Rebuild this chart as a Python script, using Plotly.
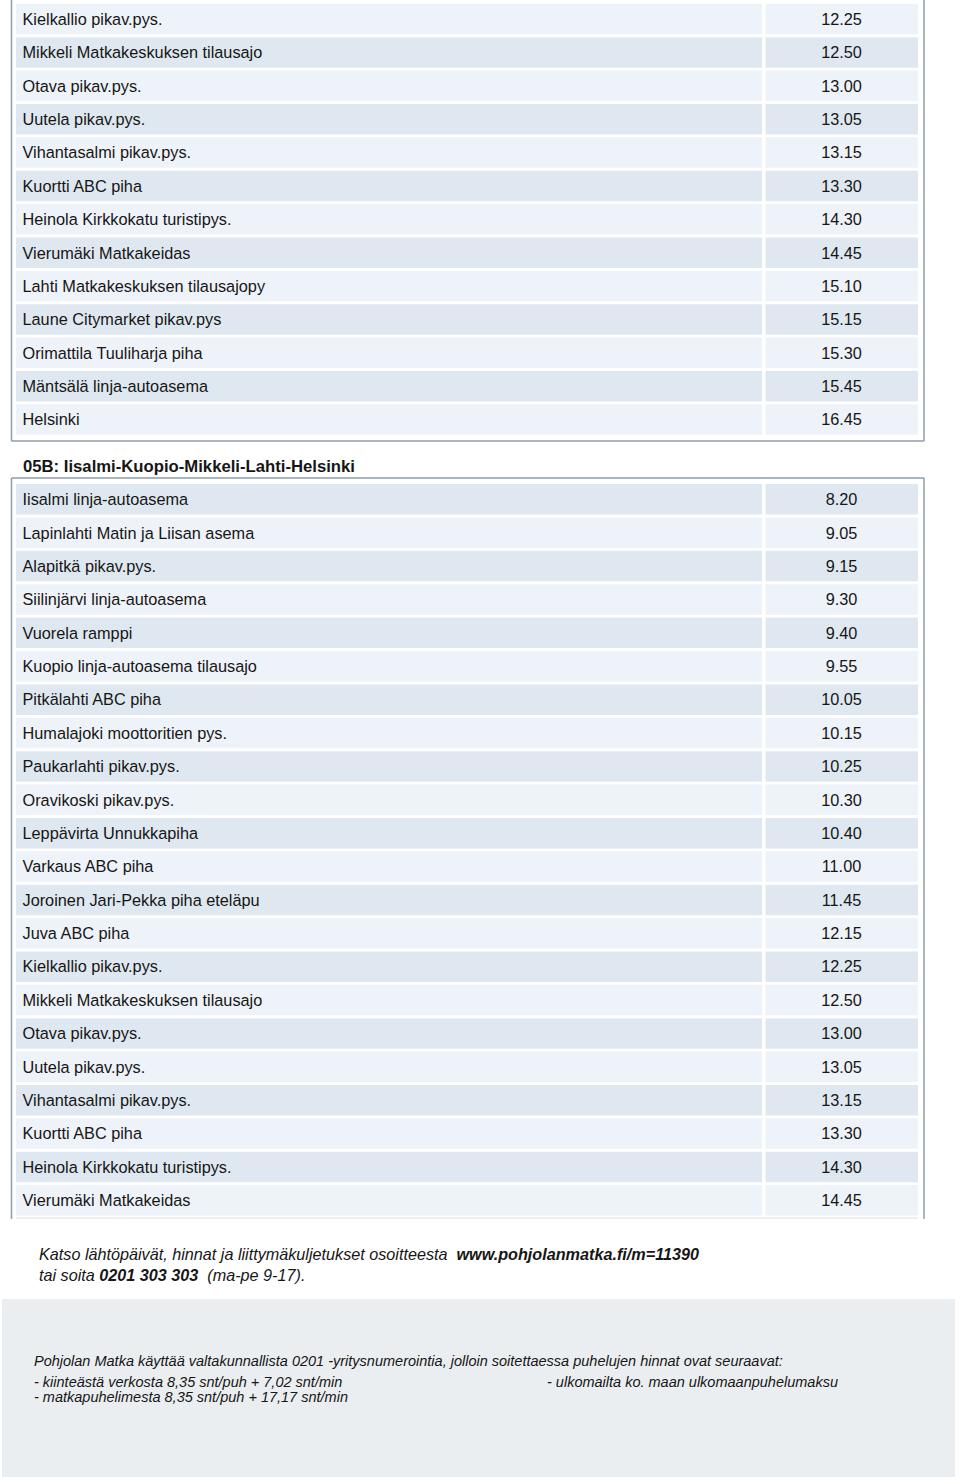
import plotly.graph_objects as go

# ---------------- data ----------------
table1_stops = [
    "Kielkallio pikav.pys.", "Mikkeli Matkakeskuksen tilausajo", "Otava pikav.pys.",
    "Uutela pikav.pys.", "Vihantasalmi pikav.pys.", "Kuortti ABC piha",
    "Heinola Kirkkokatu turistipys.", "Vierumäki Matkakeidas", "Lahti Matkakeskuksen tilausajopy",
    "Laune Citymarket pikav.pys", "Orimattila Tuuliharja piha", "Mäntsälä linja-autoasema",
    "Helsinki",
]
table1_times = ["12.25", "12.50", "13.00", "13.05", "13.15", "13.30", "14.30", "14.45",
                "15.10", "15.15", "15.30", "15.45", "16.45"]

table2_title = "05B: Iisalmi-Kuopio-Mikkeli-Lahti-Helsinki"
table2_stops = [
    "Iisalmi linja-autoasema", "Lapinlahti Matin ja Liisan asema", "Alapitkä pikav.pys.",
    "Siilinjärvi linja-autoasema", "Vuorela ramppi", "Kuopio linja-autoasema tilausajo",
    "Pitkälahti ABC piha", "Humalajoki moottoritien pys.", "Paukarlahti pikav.pys.",
    "Oravikoski pikav.pys.", "Leppävirta Unnukkapiha", "Varkaus ABC piha",
    "Joroinen Jari-Pekka piha eteläpu", "Juva ABC piha", "Kielkallio pikav.pys.",
    "Mikkeli Matkakeskuksen tilausajo", "Otava pikav.pys.", "Uutela pikav.pys.",
    "Vihantasalmi pikav.pys.", "Kuortti ABC piha", "Heinola Kirkkokatu turistipys.",
    "Vierumäki Matkakeidas",
]
table2_times = ["8.20", "9.05", "9.15", "9.30", "9.40", "9.55", "10.05", "10.15", "10.25",
                "10.30", "10.40", "11.00", "11.45", "12.15", "12.25", "12.50", "13.00",
                "13.05", "13.15", "13.30", "14.30", "14.45"]

footer_line1 = ("<i>Katso lähtöpäivät, hinnat ja liittymäkuljetukset osoitteesta  "
                "<b>www.pohjolanmatka.fi/m=11390</b></i>")
footer_line2 = "<i>tai soita <b>0201 303 303</b>  (ma-pe 9-17).</i>"
box_intro = ("Pohjolan Matka käyttää valtakunnallista 0201 -yritysnumerointia, "
             "jolloin soitettaessa puhelujen hinnat ovat seuraavat:")
box_fixed = "- kiinteästä verkosta 8,35 snt/puh + 7,02 snt/min"
box_mobile = "- matkapuhelimesta 8,35 snt/puh + 17,17 snt/min"
box_abroad = "- ulkomailta ko. maan ulkomaanpuhelumaksu"

# ---------------- styling / layout ----------------
W, H = 960, 1477
FONT = "Liberation Sans, Arial, Helvetica, sans-serif"
TXT = "#161616"
LIGHT = "#EEF2F9"
DARK = "#DFE8F0"
BORDER = "#8D9DAD"
PITCH = 33.38
T1_FIRST = 19.0
T2_FIRST = 499.3
TEXT_DY = 1.8
LX0, LX1, RX0, RX1 = 16, 762, 765.5, 918
BL, BR = 11.5, 924

shapes = []


def add_rows(n, first_center, first_dark):
    centers = []
    for i in range(n):
        c = first_center + i * PITCH
        centers.append(c)
        dark = (i % 2 == 0) == first_dark
        col = DARK if dark else LIGHT
        for x0, x1 in ((LX0, LX1), (RX0, RX1)):
            shapes.append(dict(type="rect", xref="x", yref="y", x0=x0, x1=x1,
                               y0=c - 15.2, y1=c + 15.3, fillcolor=col,
                               line=dict(width=0), layer="below"))
    return centers


c1 = add_rows(len(table1_stops), T1_FIRST, False)
c2 = add_rows(len(table2_stops), T2_FIRST, True)


def line(x0, y0, x1, y1, color=BORDER, w=1.5):
    shapes.append(dict(type="line", xref="x", yref="y", x0=x0, y0=y0, x1=x1, y1=y1,
                       line=dict(color=color, width=w)))


# table 1 borders
line(BL, 0, BL, 441)
line(BR, 0, BR, 441)
line(BL, 441, BR, 441)
# table 2 borders
line(BL, 478, BR, 478)
line(BL, 478, BL, 1219)
line(BR, 478, BR, 1219)
line(LX0, 1218, RX1, 1218, color="#D8DFE6", w=1)

# grey info box
shapes.append(dict(type="rect", xref="x", yref="y", x0=2, x1=955, y0=1299, y1=1480,
                   fillcolor="#EBEEF0", line=dict(width=0), layer="below"))

fig = go.Figure()
for stops, times, centers in ((table1_stops, table1_times, c1),
                              (table2_stops, table2_times, c2)):
    ty = [c + TEXT_DY for c in centers]
    fig.add_trace(go.Scatter(x=[22.5] * len(stops), y=ty, text=stops, mode="text",
                             textposition="middle right",
                             textfont=dict(family=FONT, size=16.3, color=TXT),
                             hoverinfo="skip", showlegend=False))
    fig.add_trace(go.Scatter(x=[841.5] * len(times), y=ty, text=times, mode="text",
                             textposition="middle center",
                             textfont=dict(family=FONT, size=16.3, color=TXT),
                             hoverinfo="skip", showlegend=False))

annotations = [
    dict(x=21, y=466, text="<b>" + table2_title + "</b>", font=dict(size=16.7)),
    dict(x=37, y=1254, text=footer_line1, font=dict(size=16.2)),
    dict(x=37, y=1275, text=footer_line2, font=dict(size=16.2)),
    dict(x=32, y=1361, text="<i>" + box_intro + "</i>", font=dict(size=14.5)),
    dict(x=32, y=1382, text="<i>" + box_fixed + "</i>", font=dict(size=14.5)),
    dict(x=32, y=1397, text="<i>" + box_mobile + "</i>", font=dict(size=14.5)),
    dict(x=545, y=1382, text="<i>" + box_abroad + "</i>", font=dict(size=14.5)),
]
for a in annotations:
    a.update(xref="x", yref="y", xanchor="left", yanchor="middle", showarrow=False)
    a["font"] = dict(family=FONT, color=TXT, size=a["font"]["size"])

fig.update_layout(
    width=W, height=H, margin=dict(l=0, r=0, t=0, b=0),
    paper_bgcolor="white", plot_bgcolor="white",
    xaxis=dict(range=[0, W], visible=False, fixedrange=True),
    yaxis=dict(range=[H, 0], visible=False, fixedrange=True),
    shapes=shapes, annotations=annotations, showlegend=False,
)
fig.write_html(
    "out.html",
    config={"displayModeBar": False},
    post_script="document.body.style.margin='0';document.body.style.overflow='hidden';",
)
